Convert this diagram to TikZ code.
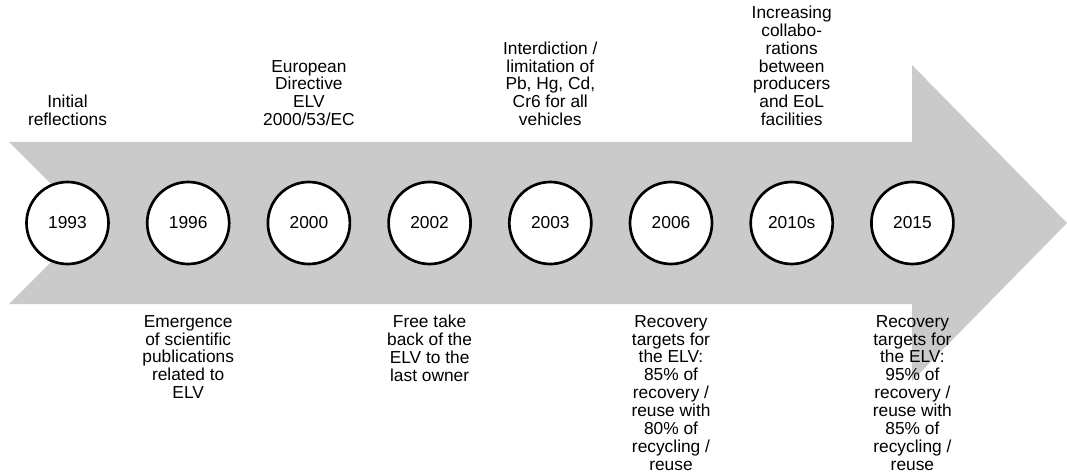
\documentclass[tikz,border=0pt]{standalone}
\usepackage{fontspec}
\setmainfont{Liberation Sans}
\definecolor{bandgray}{RGB}{202,202,202}
\begin{document}
\begin{tikzpicture}[x=0.75pt,y=-0.75pt,
  every node/.style={font=\fontsize{13}{13.4}\selectfont},
  yr/.style={draw,circle,line width=2pt,fill=white,minimum size=61.5pt,inner sep=0pt},
  toplbl/.style={anchor=south,align=center,inner sep=0pt,text depth=0pt},
  botlbl/.style={anchor=north,align=center,inner sep=0pt}]
\useasboundingbox (0,0) rectangle (1067,474);
% grey arrow
\fill[bandgray] (9,142) -- (912,142) -- (912,65) -- (1067,223) -- (912,381) -- (912,304) -- (9,304) -- (90,223) -- cycle;
% years
\node[yr] (y93) at (67.5,223) {1993};
\node[yr] (y96) at (188.2,223) {1996};
\node[yr] (y00) at (308.9,223) {2000};
\node[yr] (y02) at (429.6,223) {2002};
\node[yr] (y03) at (550.3,223) {2003};
\node[yr] (y06) at (671.0,223) {2006};
\node[yr] (y10) at (791.7,223) {2010s};
\node[yr] (y15) at (912.4,223) {2015};
% events above
\node[toplbl] (t93) at (67.5,126) {Initial\\reflections};
\node[toplbl] (t00) at (308.9,126) {European\\Directive\\ELV\\2000/53/EC};
\node[toplbl] (t03) at (550.3,126) {Interdiction /\\limitation of\\Pb, Hg, Cd,\\Cr6 for all\\vehicles};
\node[toplbl] (t10) at (791.7,126) {Increasing\\collabo-\\rations\\between\\producers\\and EoL\\facilities};
% events below
\node[botlbl] (b96) at (188.2,315) {Emergence\\of scientific\\publications\\related to\\ELV};
\node[botlbl] (b02) at (429.6,315) {Free take\\back of the\\ELV to the\\last owner};
\node[botlbl] (b06) at (671.0,315) {Recovery\\targets for\\the ELV:\\85\% of\\recovery /\\reuse with\\80\% of\\recycling /\\reuse};
\node[botlbl] (b15) at (912.4,315) {Recovery\\targets for\\the ELV:\\95\% of\\recovery /\\reuse with\\85\% of\\recycling /\\reuse};
\end{tikzpicture}
\end{document}
